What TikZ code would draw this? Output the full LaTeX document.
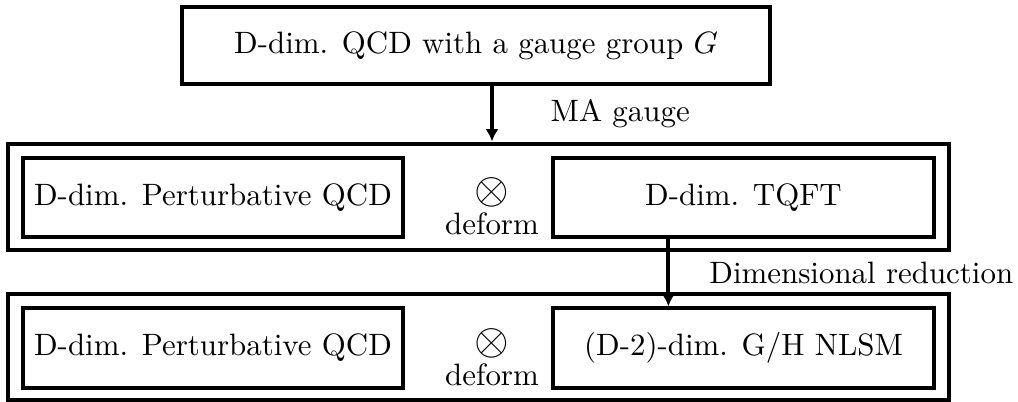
\documentclass[tikz,border=0pt]{standalone}
\usepackage{tikz}
\usetikzlibrary{arrows.meta}

\tikzset{
    model/.style={draw=black, line width=1.3pt, minimum width=123pt,
                  minimum height=25.6pt, inner sep=0pt},
    frame/.style={draw=black, line width=1.3pt, minimum width=304.5pt,
                  minimum height=34.3pt, inner sep=0pt},
    flow/.style={-{Latex[length=4pt,width=4.2pt]}, line width=1.3pt},
    tensor/.style={align=center, inner sep=0pt}
}

\begin{document}
\begin{tikzpicture}[x=0.3236pt, y=-0.3236pt]
    \useasboundingbox (0,0) rectangle (1018,401);
    \node [model, minimum width=190pt, minimum height=24.9pt] (qcd) at (476,45.5)
            {D-dim. QCD with a gauge group $G$};
    % after the gauge fixing
    \node [frame] (row1) at (478.5,196.5) {};
    \node [model] (pqcd1) at (213,197.5) {D-dim. Perturbative QCD};
    \node [model] (tqft) at (743.5,197.5) {D-dim. TQFT};
    \node [tensor] (tens1) at (492,206) {{\Large$\otimes$}\\[-2pt]deform};
    % after the reduction
    \node [frame] (row2) at (478.5,346.5) {};
    \node [model] (pqcd2) at (213,348) {D-dim. Perturbative QCD};
    \node [model] (nlsm) at (743.5,348) {(D-2)-dim. G/H NLSM};
    \node [tensor] (tens2) at (492,357) {{\Large$\otimes$}\\[-2pt]deform};
    \draw [flow] (qcd.south -| tens1) -- (row1.north -| tens1)
            node [midway, right=15pt] {MA gauge};
    \draw [flow] ([xshift=-24.3pt]tqft.south) -- ([xshift=-24.3pt]nlsm.north)
            node [midway, right=9.3pt] {Dimensional reduction};
\end{tikzpicture}
\end{document}
